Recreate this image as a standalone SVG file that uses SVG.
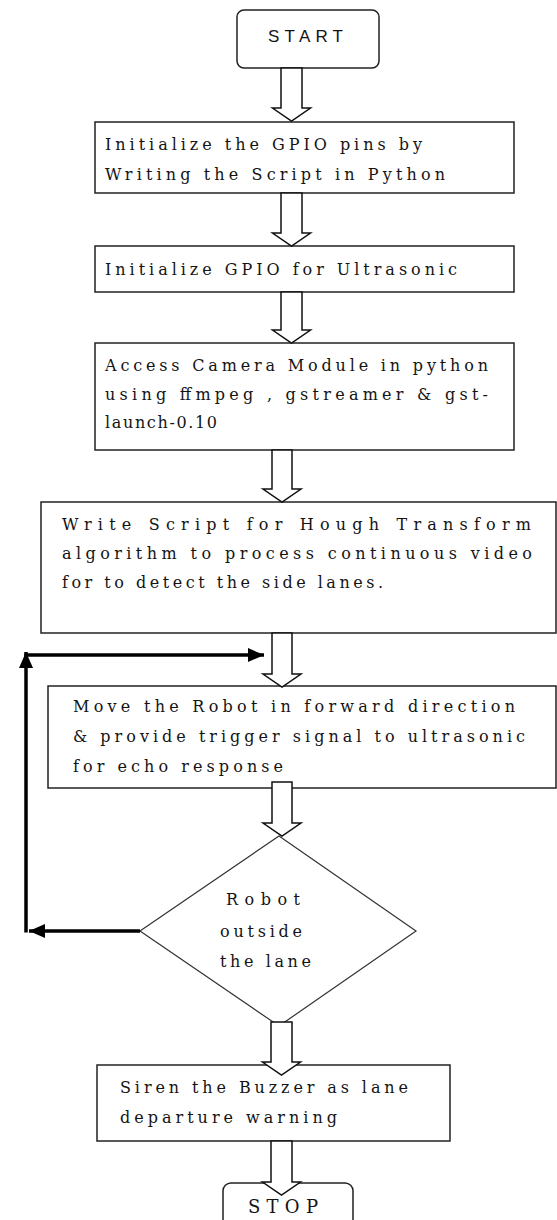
<svg xmlns="http://www.w3.org/2000/svg" width="557" height="1220" viewBox="0 0 557 1220">
  <defs>
    <style>
      .box { fill: #ffffff; stroke: #222222; stroke-width: 1.5; }
      .term { fill: #ffffff; stroke: #222222; stroke-width: 1.5; }
      .dec { fill: #ffffff; stroke: #333333; stroke-width: 1.2; }
      .blk { fill: #ffffff; stroke: #111111; stroke-width: 1.5; stroke-linejoin: miter; }
      .loop { fill: none; stroke: #000000; stroke-width: 3.5; }
      .t { font-family: "DejaVu Serif", "Liberation Serif", serif; font-size: 16px; fill: #141414; }
      .ts { font-family: "Liberation Sans", Arial, sans-serif; font-size: 17px; fill: #141414; }
      .tb { font-family: "DejaVu Serif", "Liberation Serif", serif; font-size: 18px; fill: #141414; }
    </style>
    <marker id="head" viewBox="0 0 16 14" refX="16" refY="7" markerWidth="16" markerHeight="14" markerUnits="userSpaceOnUse" orient="auto">
      <path d="M0,0 L16,7 L0,14 Z" fill="#000000"/>
    </marker>
  </defs>

  <!-- process steps -->
  <g id="start">
    <rect class="term" x="237" y="10" width="142" height="58" rx="7"/>
    <text class="ts" x="268" y="42" textLength="75" lengthAdjust="spacing">START</text>
  </g>

  <g id="init-gpio">
    <rect class="box" x="95" y="122" width="419" height="71"/>
    <text class="t" x="105" y="150" textLength="317" lengthAdjust="spacing">Initialize the GPIO pins by</text>
    <text class="t" x="105" y="180" textLength="340" lengthAdjust="spacing">Writing the Script in Python</text>
  </g>

  <g id="init-ultrasonic">
    <rect class="box" x="95" y="246" width="419" height="46"/>
    <text class="t" x="105" y="275" textLength="352" lengthAdjust="spacing">Initialize GPIO for Ultrasonic</text>
  </g>

  <g id="camera">
    <rect class="box" x="95" y="343" width="419" height="107"/>
    <text class="t" x="105" y="371" textLength="383" lengthAdjust="spacing">Access Camera Module in python</text>
    <text class="t" x="105" y="400" textLength="383" lengthAdjust="spacing">using ffmpeg , gstreamer &amp; gst-</text>
    <text class="t" x="105" y="428" textLength="112" lengthAdjust="spacing">launch-0.10</text>
  </g>

  <g id="hough">
    <rect class="box" x="41" y="502" width="515" height="131"/>
    <text class="t" x="62" y="530" textLength="469" lengthAdjust="spacing">Write Script for Hough Transform</text>
    <text class="t" x="62" y="559" textLength="470" lengthAdjust="spacing">algorithm to process continuous video</text>
    <text class="t" x="62" y="588" textLength="321" lengthAdjust="spacing">for to detect the side lanes.</text>
  </g>

  <g id="move">
    <rect class="box" x="48" y="686" width="508" height="102"/>
    <text class="t" x="73" y="712" textLength="442" lengthAdjust="spacing">Move the Robot in forward direction</text>
    <text class="t" x="73" y="742" textLength="452" lengthAdjust="spacing">&amp; provide  trigger signal to ultrasonic</text>
    <text class="t" x="73" y="772" textLength="210" lengthAdjust="spacing">for echo response</text>
  </g>

  <g id="outside-lane">
    <polygon class="dec" points="279,836 416,931 279,1026 140,931"/>
    <text class="t" x="226" y="905" textLength="74" lengthAdjust="spacing">Robot</text>
    <text class="t" x="220" y="937" textLength="82" lengthAdjust="spacing">outside</text>
    <text class="t" x="220" y="967" textLength="91" lengthAdjust="spacing">the lane</text>
  </g>

  <g id="buzzer">
    <rect class="box" x="97" y="1065" width="353" height="76"/>
    <text class="t" x="120" y="1093" textLength="288" lengthAdjust="spacing">Siren the Buzzer as lane</text>
    <text class="t" x="120" y="1123" textLength="217" lengthAdjust="spacing">departure warning</text>
  </g>

  <g id="stop">
    <rect class="term" x="223" y="1183" width="130" height="48" rx="8"/>
    <text class="tb" x="248" y="1213" textLength="70" lengthAdjust="spacing">STOP</text>
  </g>

  <!-- connectors: hollow block arrows between steps, bold loop back from the decision -->
  <g id="connectors">
    <polygon class="blk" points="281,68 302,68 302,108 310.5,108 291.5,121 272.5,108 281,108"/>
    <polygon class="blk" points="281,193 302,193 302,233 310.5,233 291.5,246 272.5,233 281,233"/>
    <polygon class="blk" points="281,292 302,292 302,330 310.5,330 291.5,343 272.5,330 281,330"/>
    <polygon class="blk" points="272,450 292,450 292,489 301,489 282,502 263,489 272,489"/>
    <polygon class="blk" points="272,633 292,633 292,674 301,674 282,687 263,674 272,674"/>
    <polygon class="blk" points="272,782 292,782 292,823 301,823 282,836 263,823 272,823"/>
    <polygon class="blk" points="271,1022 292,1022 292,1062 300.5,1062 281.5,1075 262.5,1062 271,1062"/>
    <polygon class="blk" points="271,1141 292,1141 292,1182 300.5,1182 281.5,1195 262.5,1182 271,1182"/>

    <line class="loop" x1="140" y1="931" x2="29" y2="931" marker-end="url(#head)"/>
    <line class="loop" x1="26" y1="932.5" x2="26" y2="652" marker-end="url(#head)"/>
    <line class="loop" x1="24.5" y1="655" x2="264" y2="655" marker-end="url(#head)"/>
  </g>
</svg>
